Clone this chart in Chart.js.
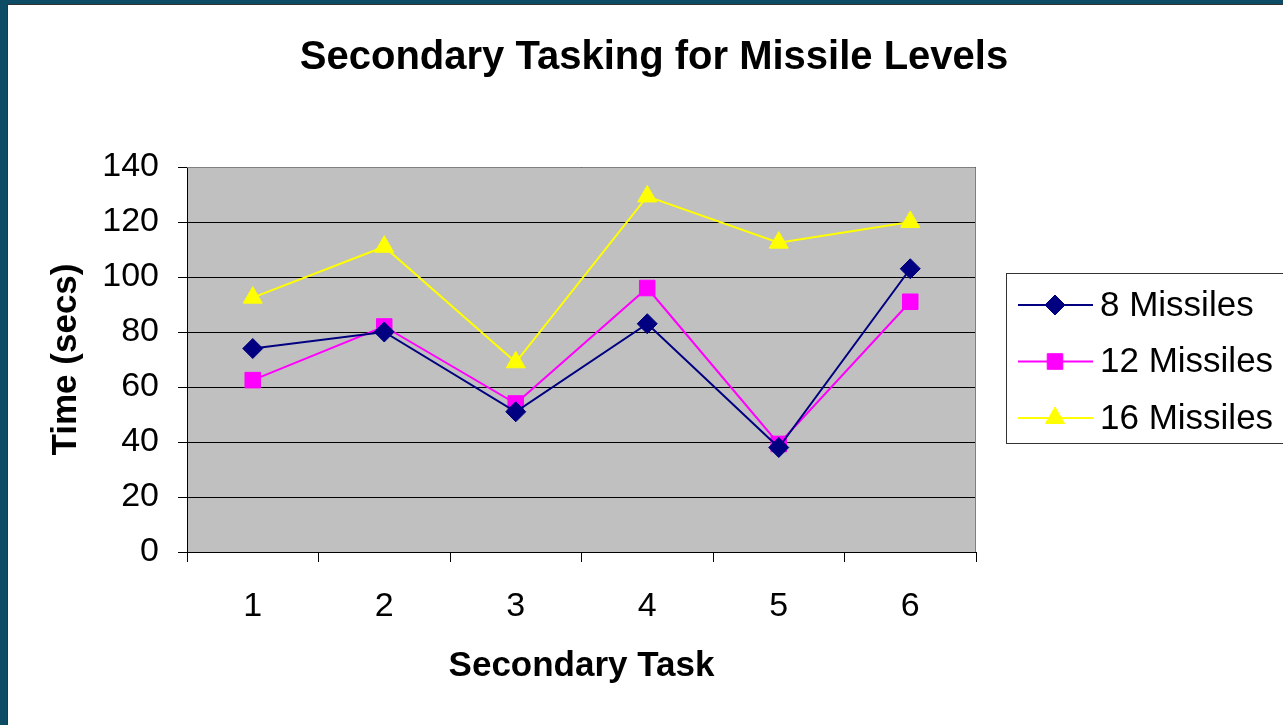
<!DOCTYPE html>
<html>
<head>
<meta charset="utf-8">
<title>Secondary Tasking for Missile Levels</title>
<script src="https://cdn.jsdelivr.net/npm/chart.js@4/dist/chart.umd.min.js"></script>
<style>
    html, body { margin: 0; padding: 0; background: #fff; }
    #chart { display: block; }
</style>
</head>
<body>
<canvas id="chart" width="1283" height="725"></canvas>
<script>
// Chart data
const tasks = ['1', '2', '3', '4', '5', '6'];
const missiles8 = [74, 80, 51, 83, 38, 103];
const missiles12 = [62.5, 82, 54, 96, 39.3, 91];
const missiles16 = [92.5, 111, 69, 129.3, 112.5, 120];
const yTicks = [0, 20, 40, 60, 80, 100, 120, 140];

const FONT = '"Liberation Sans", Arial, sans-serif';

// Frame, plot background and title
const framePlugin = {
    id: 'frame',
    beforeDraw(chart) {
        const ctx = chart.ctx;
        const area = chart.chartArea;
        ctx.save();
        ctx.fillStyle = '#ffffff';
        ctx.fillRect(0, 0, chart.width, chart.height);
        ctx.fillStyle = '#0e4c66';
        ctx.fillRect(0, 0, chart.width, 4);
        ctx.fillRect(0, 0, 7, chart.height);
        ctx.fillStyle = '#333';
        ctx.fillRect(7, 4, chart.width, 1);
        ctx.fillRect(7, 4, 1, chart.height);
        ctx.fillStyle = '#c0c0c0';
        ctx.fillRect(area.left, area.top, area.right - area.left, area.bottom - area.top);
        ctx.restore();
    },
    afterDraw(chart) {
        const ctx = chart.ctx;
        const area = chart.chartArea;
        ctx.save();
        ctx.strokeStyle = '#808080';
        ctx.lineWidth = 1;
        ctx.beginPath();
        ctx.moveTo(area.left, area.top + 0.5);
        ctx.lineTo(area.right - 0.5, area.top + 0.5);
        ctx.lineTo(area.right - 0.5, area.bottom);
        ctx.stroke();

        ctx.fillStyle = '#000';
        ctx.font = 'bold 40px ' + FONT;
        ctx.textAlign = 'center';
        ctx.textBaseline = 'middle';
        ctx.fillText('Secondary Tasking for Missile Levels', 654, 58);
        ctx.restore();
    }
};

// Boxed legend with line + marker, drawn right of the plot
const legendPlugin = {
    id: 'boxLegend',
    afterDraw(chart) {
        const ctx = chart.ctx;
        const box = { x: 1006.5, y: 273.5, w: 290, h: 170 };
        ctx.save();
        ctx.fillStyle = '#fff';
        ctx.fillRect(box.x, box.y, box.w, box.h);
        ctx.strokeStyle = '#333';
        ctx.lineWidth = 1;
        ctx.strokeRect(box.x, box.y, box.w, box.h);

        chart.data.datasets.forEach((ds, i) => {
            const y = 305 + i * 56.5;
            ctx.strokeStyle = ds.borderColor;
            ctx.lineWidth = 2;
            ctx.beginPath();
            ctx.moveTo(1018, y);
            ctx.lineTo(1093, y);
            ctx.stroke();
            ctx.fillStyle = ds.borderColor;
            ctx.lineWidth = 1;
            Chart.helpers.drawPoint(ctx, {
                pointStyle: ds.pointStyle,
                radius: ds.pointRadius,
                rotation: 0,
                borderWidth: 1
            }, 1055, y);
            ctx.fillStyle = '#000';
            ctx.font = '35px ' + FONT;
            ctx.textAlign = 'left';
            ctx.textBaseline = 'middle';
            ctx.fillText(ds.label, 1100, y + 1);
        });
        ctx.restore();
    }
};

function makeSeries(label, data, color, style, radius) {
    return {
        label: label,
        data: data,
        borderColor: color,
        backgroundColor: color,
        borderWidth: 2,
        pointStyle: style,
        pointRadius: radius,
        pointHoverRadius: radius,
        pointBackgroundColor: color,
        pointBorderColor: color,
        pointBorderWidth: 1,
        tension: 0
    };
}

const ctx = document.getElementById('chart').getContext('2d');

new Chart(ctx, {
    type: 'line',
    data: {
        labels: tasks,
        datasets: [
            makeSeries('8 Missiles', missiles8, '#000080', 'rectRot', 10),
            makeSeries('12 Missiles', missiles12, '#ff00ff', 'rect', 11),
            makeSeries('16 Missiles', missiles16, '#ffff00', 'triangle', 11)
        ]
    },
    options: {
        responsive: false,
        animation: false,
        layout: {
            padding: { left: 0, top: 167, right: 307, bottom: 0 }
        },
        scales: {
            x: {
                offset: true,
                afterFit(scale) { scale.height = 173; },
                grid: {
                    offset: true,
                    drawOnChartArea: false,
                    tickLength: 10,
                    color: '#000'
                },
                border: { color: '#000', width: 1 },
                ticks: {
                    color: '#000',
                    padding: 24,
                    font: { family: FONT, size: 34 }
                },
                title: {
                    display: true,
                    text: 'Secondary Task',
                    color: '#000',
                    padding: { top: 0, bottom: 38 },
                    font: { family: FONT, size: 35, weight: 'bold' }
                }
            },
            y: {
                min: 0,
                max: 140,
                afterFit(scale) { scale.width = 187; },
                afterBuildTicks(scale) {
                    scale.ticks = yTicks.map(v => ({ value: v }));
                },
                grid: {
                    color: '#000',
                    tickLength: 9
                },
                border: { color: '#000', width: 1 },
                ticks: {
                    color: '#000',
                    padding: 19,
                    font: { family: FONT, size: 34 }
                },
                title: {
                    display: true,
                    text: 'Time (secs)',
                    color: '#000',
                    padding: { top: 45, bottom: 0 },
                    font: { family: FONT, size: 35, weight: 'bold' }
                }
            }
        },
        plugins: {
            legend: { display: false },
            title: { display: false },
            tooltip: { enabled: false }
        }
    },
    plugins: [framePlugin, legendPlugin]
});
</script>
</body>
</html>
